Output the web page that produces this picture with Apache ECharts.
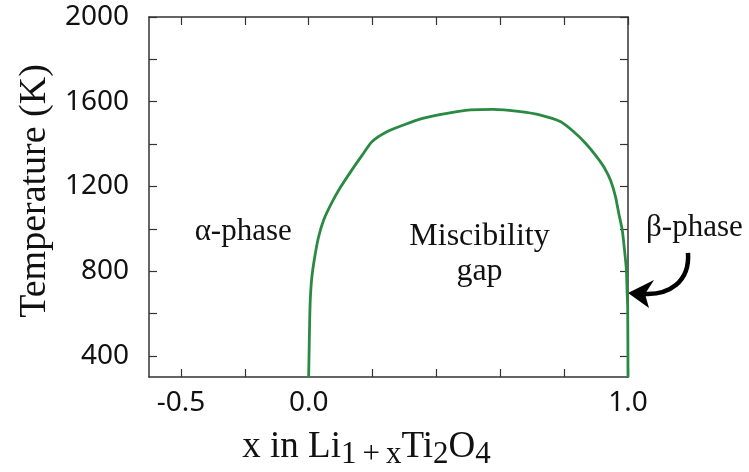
<!DOCTYPE html>
<html>
<head>
<meta charset="utf-8">
<script src="https://cdn.jsdelivr.net/npm/echarts@6/dist/echarts.min.js"></script>
<style>
  html, body { margin: 0; padding: 0; background: #fff; }
  #chart { width: 749px; height: 472px; }
</style>
</head>
<body>
<div id="chart"></div>
<script>
// Phase boundary (binodal) of the miscibility gap: composition x vs temperature T (K)
const boundaryX = [0.000, 0.002, 0.003, 0.005, 0.010, 0.019, 0.031, 0.047, 0.072, 0.100, 0.135,
                   0.166, 0.198, 0.245, 0.297, 0.360, 0.433, 0.506, 0.579, 0.663, 0.726, 0.788,
                   0.830, 0.867, 0.898, 0.924, 0.945, 0.961, 0.971, 0.982, 0.989, 0.995, 0.997,
                   0.999, 1.000];
const boundaryT = [300, 475, 555, 664, 772, 867, 961, 1041, 1122, 1197, 1277,
                   1344, 1411, 1458, 1490, 1522, 1545, 1561, 1564, 1553, 1537, 1506,
                   1458, 1404, 1348, 1293, 1230, 1151, 1073, 994, 900, 805, 711,
                   632, 300];

// Axis ticks and labels
const xTickValues = [-0.4, -0.2, 0.0, 0.2, 0.4, 0.6, 0.8, 1.0];
const xLabelValues = [-0.4, 0.0, 1.0];
const xLabelTexts = ['-0.5', '0.0', '1.0'];
const yTickValues = [400, 600, 800, 1000, 1200, 1400, 1600, 1800, 2000];
const yLabelValues = [400, 800, 1200, 1600, 2000];

const serif = '"Liberation Serif", "Times New Roman", serif';
const sans = '"Noto Sans", "Open Sans", sans-serif';
const frameColor = '#333333';

const chart = echarts.init(document.getElementById('chart'), null, { renderer: 'canvas' });

const axisLineStyle = { show: true, onZero: false, lineStyle: { color: frameColor, width: 1.5 } };
const tickStyle = { inside: true, length: 8, lineStyle: { color: frameColor, width: 1.2 } };

const option = {
  animation: false,
  backgroundColor: '#ffffff',
  grid: { left: 149, right: 121, top: 17, bottom: 95, containLabel: false, outerBoundsMode: 'none' },
  xAxis: [
    {
      type: 'value', min: -0.5, max: 1.0, position: 'bottom',
      axisLine: axisLineStyle,
      axisTick: Object.assign({ customValues: xTickValues }, tickStyle),
      splitLine: { show: false },
      axisLabel: {
        customValues: xLabelValues,
        formatter: v => {
          const i = xLabelValues.findIndex(p => Math.abs(p - v) < 1e-9);
          return i >= 0 ? xLabelTexts[i] : '';
        },
        fontFamily: sans, fontSize: 28, color: '#111', margin: 12
      },
      name: '{m|x in Li}{s|1}{p|+}{s|x}{m|Ti}{s|2}{m|O}{s|4}',
      nameLocation: 'middle', nameGap: 52,
      nameTextStyle: {
        padding: [0, 44, 0, 0],
        rich: {
          m: { fontFamily: serif, fontSize: 37, lineHeight: 41, color: '#111', verticalAlign: 'top' },
          s: { fontFamily: serif, fontSize: 31, color: '#111', verticalAlign: 'bottom' },
          p: { fontFamily: serif, fontSize: 31, color: '#111', verticalAlign: 'bottom', padding: [0, 6, 0, 6] }
        }
      }
    },
    {
      type: 'value', min: -0.5, max: 1.0, position: 'top',
      axisLine: axisLineStyle,
      axisTick: Object.assign({ customValues: xTickValues }, tickStyle),
      axisLabel: { show: false }, splitLine: { show: false }
    }
  ],
  yAxis: [
    {
      type: 'value', min: 300, max: 2000, position: 'left',
      axisLine: axisLineStyle,
      axisTick: Object.assign({ customValues: yTickValues }, tickStyle),
      splitLine: { show: false },
      axisLabel: {
        customValues: yLabelValues,
        formatter: v => String(v),
        fontFamily: sans, fontSize: 28, color: '#111', margin: 20
      },
      name: 'Temperature (K)',
      nameLocation: 'middle', nameGap: 95,
      nameTextStyle: { fontFamily: serif, fontSize: 38, color: '#111', padding: [0, 0, 0, 12] }
    },
    {
      type: 'value', min: 300, max: 2000, position: 'right',
      axisLine: axisLineStyle,
      axisTick: Object.assign({ customValues: yTickValues }, tickStyle),
      axisLabel: { show: false }, splitLine: { show: false }
    }
  ],
  series: [
    {
      name: 'binodal',
      type: 'line',
      xAxisIndex: 0, yAxisIndex: 0,
      data: boundaryX.map((x, i) => [x, boundaryT[i]]),
      showSymbol: false, symbol: 'none',
      smooth: 0.2,
      lineStyle: { color: '#2a8a43', width: 2.8 },
      clip: true
    }
  ]
};
chart.setOption(option);

// Region labels and the arrow pointing at the beta-phase boundary
const px = (x, y) => chart.convertToPixel({ gridIndex: 0 }, [x, y]);
const alphaPos = px(-0.205, 985);
const gapPos = px(0.535, 880);
const betaPos = px(1.208, 1004);
const tip = px(1.0, 697);

const label = (text, pos, size) => ({
  type: 'text', x: pos[0], y: pos[1], silent: true,
  style: { text, fontFamily: serif, fontSize: size, fill: '#111',
           align: 'center', verticalAlign: 'middle', lineHeight: 35 }
});

chart.setOption({
  graphic: [
    label('\u03b1-phase', alphaPos, 31),
    label('Miscibility\ngap', gapPos, 32),
    label('\u03b2-phase', betaPos, 31),
    {
      type: 'bezierCurve', silent: true,
      shape: {
        x1: tip[0] + 60, y1: tip[1] - 40,
        cpx1: tip[0] + 62, cpy1: tip[1] - 10,
        cpx2: tip[0] + 40, cpy2: tip[1] + 2,
        x2: tip[0] + 17, y2: tip[1] + 1
      },
      style: { stroke: '#000', lineWidth: 4.5, fill: null }
    },
    {
      type: 'polygon', silent: true,
      shape: {
        points: [
          [tip[0], tip[1]],
          [tip[0] + 26, tip[1] - 13],
          [tip[0] + 17, tip[1] + 1],
          [tip[0] + 21, tip[1] + 15]
        ]
      },
      style: { fill: '#000' }
    }
  ]
});
</script>
</body>
</html>
